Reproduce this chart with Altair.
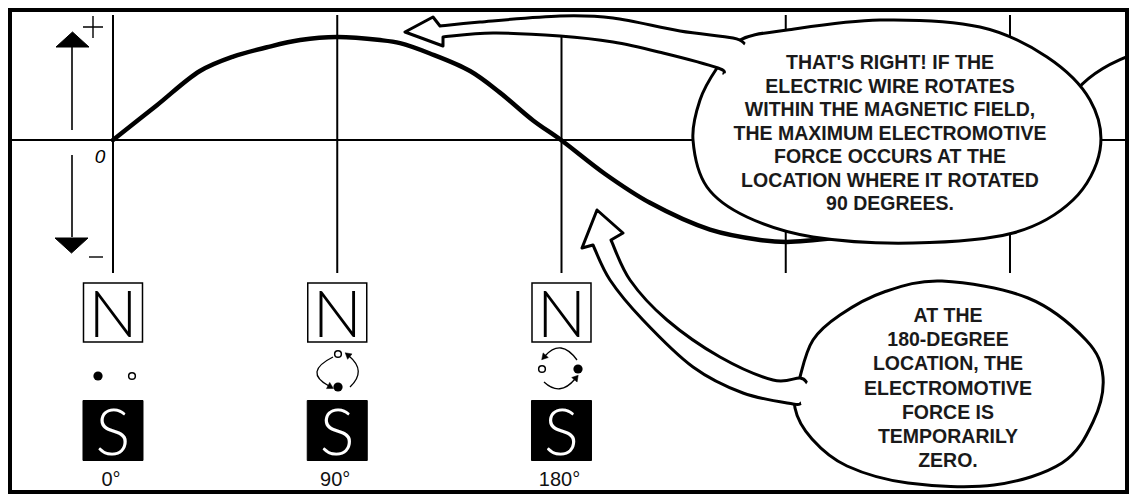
import altair as alt
import pandas as pd

# ---------------- values ----------------
rotation_deg = [0, 17.5, 34.9, 48.2, 61.8, 75.1, 89.9, 107.2, 115.2, 127.2, 143.3,
                155.3, 168.6, 179.8, 197.5, 215.5, 239.6, 259.7, 270.5, 290.0]
emf_value = [0, 0.335, 0.67, 0.81, 0.90, 0.97, 1.00, 0.97, 0.94, 0.84, 0.67,
             0.46, 0.19, 0.0, -0.33, -0.61, -0.87, -0.97, -0.99, -0.95]
grid_deg = [0, 90, 180, 270, 360]
magnet_deg = [0, 90, 180]
magnet_labels = ["0°", "90°", "180°"]
north_letters = ["N", "N", "N"]
south_letters = ["S", "S", "S"]
bubble1_lines = ["THAT'S RIGHT! IF THE", "ELECTRIC WIRE ROTATES",
                 "WITHIN THE MAGNETIC FIELD,", "THE MAXIMUM ELECTROMOTIVE",
                 "FORCE OCCURS AT THE", "LOCATION WHERE IT ROTATED",
                 "90 DEGREES."]
bubble2_lines = ["AT THE", "180-DEGREE", "LOCATION, THE", "ELECTROMOTIVE",
                 "FORCE IS", "TEMPORARILY", "ZERO."]

# ---------------- scales / layout ----------------
W, H = 1121, 486
X0, X1 = -42.14, 407.76
Y0, Y1 = -3.437, 1.2816
KX = W / (X1 - X0)
KY = H / (Y1 - Y0)


def at(px, py):
    return X0 + (px - 8) / KX, Y1 - (py - 8) / KY


def page(x, y):
    return 8 + (x - X0) * KX, 8 + (Y1 - y) * KY


xs = alt.Scale(domain=[X0, X1], nice=False, zero=False)
ys = alt.Scale(domain=[Y0, Y1], nice=False, zero=False)


def X(f="x"):
    return alt.X(f, type="quantitative", scale=xs, axis=None)


def Y(f="y"):
    return alt.Y(f, type="quantitative", scale=ys, axis=None)


def fmt(p):
    return f"{p[0]:.1f},{p[1]:.1f}"


def smooth(pts, closed=False):
    n = len(pts)
    segs = []
    rng = range(n) if closed else range(n - 1)
    for i in rng:
        p0 = pts[(i - 1) % n] if (closed or i > 0) else pts[i]
        p1 = pts[i]
        p2 = pts[(i + 1) % n]
        p3 = pts[(i + 2) % n] if (closed or i + 2 < n) else p2
        c1 = (p1[0] + (p2[0] - p0[0]) / 6, p1[1] + (p2[1] - p0[1]) / 6)
        c2 = (p2[0] - (p3[0] - p1[0]) / 6, p2[1] - (p3[1] - p1[1]) / 6)
        segs.append(f"C{fmt(c1)} {fmt(c2)} {fmt(p2)}")
    return segs


def rel(pts, anchor):
    ax, ay = page(*anchor)
    return [(p[0] - ax, p[1] - ay) for p in pts]


def closed_shape(pts, anchor):
    r = rel(pts, anchor)
    return "M" + fmt(r[0]) + "".join(smooth(r, closed=True)) + "Z"


def tail_shape(parts, anchor):
    d = ""
    for kind, pts in parts:
        r = rel(pts, anchor)
        d += ("M" if not d else "L") + fmt(r[0])
        if kind == "s":
            d += "".join(smooth(r))
        else:
            d += "".join("L" + fmt(p) for p in r[1:])
    return d


# ---------------- base layers ----------------
hline = alt.Chart(pd.DataFrame({"y": [0]})).mark_rule(
    color="black", strokeWidth=2).encode(y=Y())

gtop, gbot = at(0, 15)[1], at(0, 273)[1]
vgrid = alt.Chart(pd.DataFrame({"x": grid_deg, "y": [gtop] * 5, "y2": [gbot] * 5})
                  ).mark_rule(color="black", strokeWidth=2).encode(
    x=X(), y=Y(), y2="y2")

curve = alt.Chart(pd.DataFrame({"x": rotation_deg, "y": emf_value})).mark_line(
    color="black", strokeWidth=4.5, interpolate="catmull-rom",
    strokeCap="round", strokeJoin="round").encode(x=X(), y=Y())

# y-axis direction arrows
ax_x = at(72, 0)[0]
shafts = alt.Chart(pd.DataFrame({
    "x": [ax_x, ax_x], "y": [at(0, 130)[1], at(0, 155)[1]],
    "y2": [at(0, 47)[1], at(0, 237)[1]]})).mark_rule(
    color="black", strokeWidth=1.6).encode(x=X(), y=Y(), y2="y2")

heads = pd.DataFrame({
    "x": [at(72.5, 0)[0], at(71.5, 0)[0]],
    "y": [at(0, 40)[1], at(0, 245)[1]],
    "shape": ["M0,-8L16.5,7L-16.5,7Z", "M0,8L16.5,-7L-16.5,-7Z"]})
arrow_heads = alt.Chart(heads).mark_point(
    size=4, filled=True, fill="black", stroke="black", strokeWidth=1,
    opacity=1).encode(x=X(), y=Y(), shape=alt.Shape("shape:N", scale=None))

signs = pd.DataFrame({
    "x": [at(93, 0)[0], at(96, 0)[0]],
    "y": [at(0, 27)[1], at(0, 257)[1]],
    "shape": ["M-10,0L10,0M0,-11L0,11", "M-7,0L7,0"]})
sign_marks = alt.Chart(signs).mark_point(
    size=4, filled=False, stroke="black", strokeWidth=1.4, opacity=1
).encode(x=X(), y=Y(), shape=alt.Shape("shape:N", scale=None))

zx, zy = at(100, 157)
zero_txt = alt.Chart(pd.DataFrame({"x": [zx], "y": [zy], "t": ["0"]})).mark_text(
    font="Liberation Sans", fontStyle="italic", fontSize=19, baseline="middle",
    color="black").encode(x=X(), y=Y(), text="t:N")

# ---------------- magnets ----------------
ny = at(0, 312.5)[1]
sy = at(0, 430.5)[1]
mag = pd.DataFrame({"x": magnet_deg, "ny": [ny] * 3, "sy": [sy] * 3,
                    "N": north_letters, "S": south_letters,
                    "lab": magnet_labels, "ly": [at(0, 480)[1]] * 3})
nbox = alt.Chart(mag).mark_point(
    shape="square", size=59 ** 2, filled=True, fill="white", stroke="black",
    strokeWidth=1.5, opacity=1).encode(x=X(), y=Y("ny"))
sbox = alt.Chart(mag).mark_point(
    shape="square", size=60 ** 2, filled=True, fill="black", stroke="black",
    strokeWidth=1, opacity=1).encode(x=X(), y=Y("sy"))
ntxt = alt.Chart(mag).mark_text(
    font="Lato", fontWeight=300, fontSize=65, baseline="alphabetic", dy=24,
    color="black").encode(x=X(), y=Y("ny"), text="N:N")
stxt = alt.Chart(mag).mark_text(
    font="Lato", fontWeight=300, fontSize=65, baseline="alphabetic", dy=24,
    color="white").encode(x=X(), y=Y("sy"), text="S:N")
labs = alt.Chart(mag).mark_text(
    font="Liberation Sans", fontSize=20, baseline="middle", dx=-2,
    color="#111").encode(x=X(), y=Y("ly"), text="lab:N")

# conductor dots
filled_pts = [at(98, 376), at(338, 387), at(578, 369)]
open_pts = [at(132, 376), at(338, 354), at(542, 369)]
dots_f = alt.Chart(pd.DataFrame({"x": [p[0] for p in filled_pts],
                                 "y": [p[1] for p in filled_pts]})).mark_point(
    shape="circle", size=85, filled=True, fill="black", opacity=1
).encode(x=X(), y=Y())
dots_o = alt.Chart(pd.DataFrame({"x": [p[0] for p in open_pts],
                                 "y": [p[1] for p in open_pts]})).mark_point(
    shape="circle", size=45, filled=True, fill="white", stroke="black",
    strokeWidth=1.5, opacity=1).encode(x=X(), y=Y())

rot_anchor = [at(338, 371), at(560, 369)]
rot = pd.DataFrame({
    "x": [p[0] for p in rot_anchor], "y": [p[1] for p in rot_anchor],
    "arc": ["M-5,-14Q-35,1 -9,15M12,16Q29,0 11,-15",
            "M17,-9Q1,-31 -15,-13M-16,13Q0,28 15,10"],
    "head": ["M-4.6,17.4L-11.5,17.6L-8.3,11.4ZM7.2,-18.2L14,-17.1L9.6,-11.7Z",
             "M-18.3,-9.3L-11.7,-11.5L-16.9,-16.1ZM18.2,6.2L17.1,13L11.7,8.5Z"]})
rot_arcs = alt.Chart(rot).mark_point(
    size=4, filled=False, stroke="black", strokeWidth=1.3, opacity=1
).encode(x=X(), y=Y(), shape=alt.Shape("arc:N", scale=None))
rot_heads = alt.Chart(rot).mark_point(
    size=4, filled=True, fill="black", stroke="black", strokeWidth=0.5,
    opacity=1).encode(x=X(), y=Y(), shape=alt.Shape("head:N", scale=None))

# ---------------- speech bubbles ----------------
a_part = at(1100, 80)
part_arc = alt.Chart(pd.DataFrame({"x": [a_part[0]], "y": [a_part[1]]})).mark_point(
    size=4, filled=False, stroke="black", strokeWidth=3, opacity=1,
    shape="M" + fmt(rel([(1072, 96)], a_part)[0]) + "Q" +
          fmt(rel([(1092, 68)], a_part)[0]) + " " +
          fmt(rel([(1140, 52)], a_part)[0])
).encode(x=X(), y=Y())

b1_anchor = at(895, 130)
b1_body = [(740, 40), (787, 30), (880, 20), (980, 27), (1047, 57), (1090, 100),
           (1100, 150), (1073, 200), (1013, 233), (913, 243), (813, 237),
           (747, 217), (707, 187), (693, 140), (700, 100), (717, 68)]
b1_tail = [("s", [(745, 44), (733, 38), (680, 31), (613, 18), (560, 16),
                  (480, 22), (440, 26)]),
           ("l", [(433, 17), (405, 32), (443, 46), (443, 37)]),
           ("s", [(443, 37), (493, 33), (560, 36), (613, 42), (663, 53),
                  (718, 68), (724, 74)])]
b2_anchor = at(948, 383)
b2_body = [(800, 377), (813, 340), (840, 315), (884, 292), (942, 281),
           (1028, 298), (1086, 340), (1103, 377), (1093, 422), (1062, 463),
           (994, 485), (908, 483), (847, 466), (812, 439), (795, 408)]
b2_tail = [("s", [(801, 403), (793, 404), (743, 393), (693, 367), (643, 320),
                  (610, 280), (593, 245)]),
           ("l", [(582, 248), (597, 210), (623, 233), (611, 240)]),
           ("s", [(611, 240), (630, 280), (667, 320), (720, 357), (773, 380),
                  (800, 378), (807, 383)])]

bub = pd.DataFrame({
    "x": [b1_anchor[0], b1_anchor[0], b2_anchor[0], b2_anchor[0]],
    "y": [b1_anchor[1], b1_anchor[1], b2_anchor[1], b2_anchor[1]],
    "shape": [closed_shape(b1_body, b1_anchor), tail_shape(b1_tail, b1_anchor),
              closed_shape(b2_body, b2_anchor), tail_shape(b2_tail, b2_anchor)],
    "order": [0, 1, 2, 3]})
bubbles = alt.Chart(bub).mark_point(
    size=4, filled=True, fill="white", stroke="black", strokeWidth=3,
    strokeJoin="round", opacity=1).encode(
    x=X(), y=Y(), shape=alt.Shape("shape:N", scale=None),
    order=alt.Order("order:Q"))

t1x = at(890, 0)[0]
t2x = at(948, 0)[0]
txt = pd.DataFrame({
    "x": [t1x] * len(bubble1_lines) + [t2x] * len(bubble2_lines),
    "y": [at(0, 62 + 23.5 * i)[1] for i in range(len(bubble1_lines))] +
         [at(0, 315 + 24.2 * i)[1] for i in range(len(bubble2_lines))],
    "t": bubble1_lines + bubble2_lines})
texts = alt.Chart(txt).mark_text(
    font="Liberation Sans", fontWeight="bold", fontSize=19.5,
    baseline="middle", dy=1, color="#1a1a1a").encode(x=X(), y=Y(), text="t:N")

chart = alt.layer(
    hline, vgrid, curve, shafts, arrow_heads, sign_marks, zero_txt,
    nbox, sbox, ntxt, stxt, labs, dots_f, dots_o, rot_arcs, rot_heads,
    part_arc, bubbles, texts
).properties(
    width=W, height=H, padding=0, background="white",
    autosize=alt.AutoSizeParams(type="none")
).configure_view(stroke="black", strokeWidth=8)

chart.save("out.html", embed_options={"renderer": "svg", "actions": False})
